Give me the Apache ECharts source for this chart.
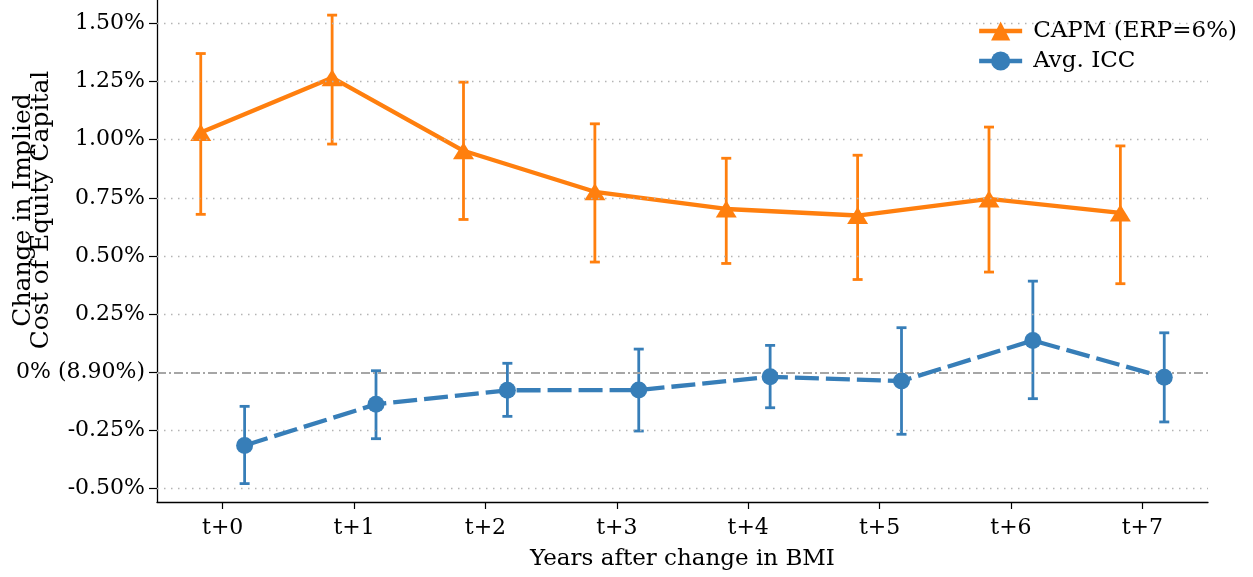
<!DOCTYPE html>
<html>
<head>
<meta charset="utf-8">
<script src="https://cdn.jsdelivr.net/npm/echarts@6/dist/echarts.min.js"></script>
<style>html,body{margin:0;padding:0;background:#fff}#c{width:1253px;height:577px}</style>
</head>
<body>
<div id="c"></div>
<script>
const categories = ['t+0','t+1','t+2','t+3','t+4','t+5','t+6','t+7'];
const capmMean = [1.031, 1.266, 0.952, 0.776, 0.702, 0.674, 0.745, 0.685];
const capmLow  = [0.679, 0.981, 0.657, 0.474, 0.468, 0.399, 0.431, 0.381];
const capmHigh = [1.370, 1.535, 1.247, 1.068, 0.920, 0.933, 1.054, 0.973];
const iccMean  = [-0.314, -0.137, -0.077, -0.076, -0.019, -0.037, 0.137, -0.021];
const iccLow   = [-0.478, -0.285, -0.189, -0.252, -0.152, -0.266, -0.113, -0.213];
const iccHigh  = [-0.146, 0.007, 0.039, 0.100, 0.116, 0.192, 0.392, 0.170];
const yTicks = [-0.5, -0.25, 0, 0.25, 0.5, 0.75, 1.0, 1.25, 1.5];
const yTickLabels = ['-0.50%', '-0.25%', '0% (8.90%)', '0.25%', '0.50%', '0.75%', '1.00%', '1.25%', '1.50%'];
const xTicks = [0, 1, 2, 3, 4, 5, 6, 7];

const CAPM_SHIFT = -0.167, ICC_SHIFT = 0.167;
const ORANGE = '#ff7f0e', BLUE = '#377eb8';
const FONT = '"DejaVu Serif", "Liberation Serif", serif';

const capmPts = capmMean.map((v, i) => [i + CAPM_SHIFT, v]);
const iccPts = iccMean.map((v, i) => [i + ICC_SHIFT, v]);
const capmErr = capmMean.map((v, i) => [i + CAPM_SHIFT, capmLow[i], capmHigh[i]]);
const iccErr = iccMean.map((v, i) => [i + ICC_SHIFT, iccLow[i], iccHigh[i]]);

function errRender(color) {
  return function (params, api) {
    const x = api.value(0);
    const lo = api.coord([x, api.value(1)]);
    const hi = api.coord([x, api.value(2)]);
    const cw = 5;
    const st = { stroke: color, lineWidth: 2.8 };
    return {
      type: 'group',
      children: [
        { type: 'line', shape: { x1: lo[0], y1: lo[1], x2: hi[0], y2: hi[1] }, style: st },
        { type: 'line', shape: { x1: lo[0] - cw, y1: lo[1], x2: lo[0] + cw, y2: lo[1] }, style: st },
        { type: 'line', shape: { x1: hi[0] - cw, y1: hi[1], x2: hi[0] + cw, y2: hi[1] }, style: st }
      ]
    };
  };
}

const chart = echarts.init(document.getElementById('c'), null, { renderer: 'canvas' });
chart.setOption({
  animation: false,
  backgroundColor: '#fff',
  grid: { left: 157, right: 45, top: 0, bottom: 75, containLabel: false, outerBoundsMode: 'none' },
  xAxis: {
    type: 'value', min: -0.5, max: 7.5,
    name: 'Years after change in BMI', nameLocation: 'middle', nameGap: 46,
    nameTextStyle: { fontFamily: FONT, fontSize: 23, color: '#000' },
    axisLine: { show: true, onZero: false, lineStyle: { color: '#000', width: 1.3 } },
    axisTick: { show: true, length: 7, customValues: xTicks, lineStyle: { color: '#000', width: 1.2 } },
    axisLabel: { customValues: xTicks, formatter: v => categories[Math.round(v)], fontFamily: FONT, fontSize: 22, color: '#000', margin: 15 },
    splitLine: { show: false }
  },
  yAxis: {
    type: 'value', min: -0.557, max: 1.6,
    axisLine: { show: true, onZero: false, lineStyle: { color: '#000', width: 1.3 } },
    axisTick: { show: true, length: 8, customValues: yTicks, lineStyle: { color: '#000', width: 1.2 } },
    axisLabel: {
      customValues: yTicks,
      formatter: v => { const k = yTicks.findIndex(t => Math.abs(t - v) < 1e-6); return k >= 0 ? yTickLabels[k] : ''; },
      fontFamily: FONT, fontSize: 22, color: '#000', margin: 12
    },
    splitLine: { show: false }
  },
  legend: {
    orient: 'vertical', left: 977, top: 16, itemGap: 0, padding: 0,
    itemWidth: 43, itemHeight: 24,
    textStyle: { fontFamily: FONT, fontSize: 23, color: '#000', lineHeight: 30, padding: [0, 0, 0, 6] },
    data: [
      { name: 'CAPM (ERP=6%)', lineStyle: { width: 4.3 } },
      { name: 'Avg. ICC', lineStyle: { type: 'solid', width: 4.3 } }
    ]
  },
  graphic: [
    { type: 'text', x: 23.5, y: 210, rotation: Math.PI / 2,
      style: { text: 'Change in Implied', font: '25px ' + FONT, fill: '#000', align: 'center', verticalAlign: 'middle' } },
    { type: 'text', x: 41.5, y: 210, rotation: Math.PI / 2,
      style: { text: 'Cost of Equity Capital', font: '25px ' + FONT, fill: '#000', align: 'center', verticalAlign: 'middle' } }
  ],
  series: [
    {
      name: 'grid', type: 'line', data: [], silent: true, z: 0,
      markLine: {
        silent: true, symbol: ['none', 'none'], label: { show: false },
        data: yTicks.filter(t => t !== 0).map(t => ({ yAxis: t, lineStyle: { color: '#b4b4b4', width: 1.3, type: [1.5, 5.5] } }))
          .concat([{ yAxis: 0, lineStyle: { color: '#a6a6a6', width: 1.8, type: [9, 3, 2, 3] } }])
      }
    },
    { name: 'capmErr', type: 'custom', renderItem: errRender(ORANGE), data: capmErr, encode: { x: 0, y: [1, 2] }, z: 2, silent: true },
    {
      name: 'CAPM (ERP=6%)', type: 'line', data: capmPts, z: 3,
      symbol: 'triangle', symbolSize: [21, 17], showAllSymbol: true,
      itemStyle: { color: ORANGE }, lineStyle: { color: ORANGE, width: 4.3 }
    },
    { name: 'iccErr', type: 'custom', renderItem: errRender(BLUE), data: iccErr, encode: { x: 0, y: [1, 2] }, z: 4, silent: true },
    {
      name: 'Avg. ICC', type: 'line', data: iccPts, z: 5,
      symbol: 'circle', symbolSize: 17, showAllSymbol: true,
      itemStyle: { color: BLUE }, lineStyle: { color: BLUE, width: 4.3, type: [24, 7] }
    }
  ]
});
</script>
</body>
</html>
